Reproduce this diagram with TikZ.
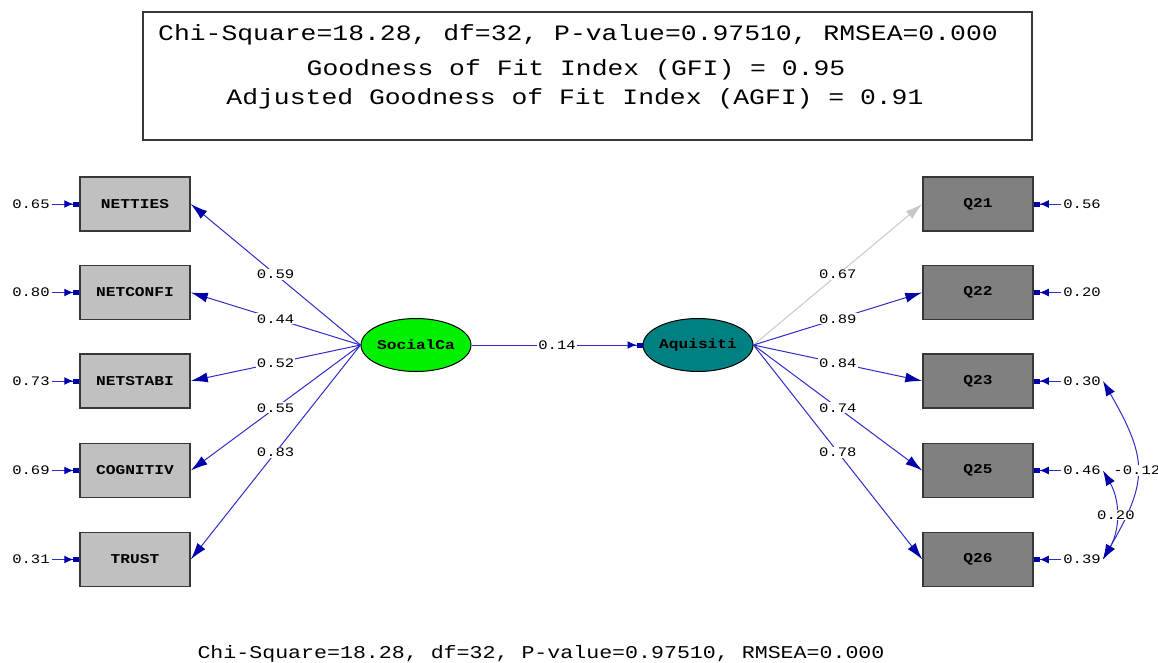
\documentclass[tikz,border=0pt]{standalone}
\usepackage{fontspec}
\usetikzlibrary{arrows.meta,shapes.geometric}
\newfontfamily\lisfont[FakeStretch=1.2]{Liberation Mono}
\definecolor{lisblue}{RGB}{45,45,200}
\definecolor{headblue}{RGB}{0,0,170}
\definecolor{lightbox}{RGB}{192,192,192}
\definecolor{darkbox}{RGB}{128,128,128}
\definecolor{framegray}{RGB}{55,55,55}
\definecolor{fixgray}{RGB}{200,200,200}
\definecolor{latgreen}{RGB}{0,240,0}
\definecolor{latteal}{RGB}{0,128,128}
\tikzset{
	obsbox/.style={draw=framegray, line width=1.5pt, minimum width=110pt, minimum height=54pt, inner sep=0pt, font=\lisfont\fontsize{13.5pt}{15pt}\selectfont\bfseries},
	latent/.style={ellipse, draw=black, line width=1pt, minimum width=110pt, minimum height=53pt, inner sep=0pt, font=\lisfont\fontsize{13.5pt}{15pt}\selectfont\bfseries},
	coef/.style={font=\lisfont\fontsize{13pt}{15pt}\selectfont, fill=white, inner sep=1pt},
	errlab/.style={font=\lisfont\fontsize{13pt}{15pt}\selectfont, inner sep=2pt},
	load/.style={draw=lisblue, line width=1pt, -{Latex[length=17pt,width=10pt,color=headblue]}},
	err/.style={draw=lisblue, line width=1pt, -{Latex[length=9pt,width=8pt,color=headblue]Rectangle[length=6pt,width=5pt,sep=0pt,color=headblue]}},
	cov/.style={draw=lisblue, line width=1pt, {Latex[length=15pt,width=10pt,color=headblue]}-{Latex[length=15pt,width=10pt,color=headblue]}},
	fitline/.style={font=\lisfont\fontsize{22pt}{24pt}\selectfont, inner sep=0pt}
}
\begin{document}
\begin{tikzpicture}[x=1pt, y=-1pt]
	\useasboundingbox[fill=white] (0,0) rectangle (1158,662);

	\node[draw=framegray, line width=2pt, minimum width=889pt, minimum height=128pt] (fitbox) at (587.5,76) {};
	\node[fitline] (chi) at (578,35) {Chi-Square=18.28, df=32, P-value=0.97510, RMSEA=0.000};
	\node[fitline] (gfi) at (576,70) {Goodness of Fit Index (GFI) = 0.95};
	\node[fitline] (agfi) at (575,99) {Adjusted Goodness of Fit Index (AGFI) = 0.91};

	\node[obsbox, fill=lightbox] (netties) at (135,204) {NETTIES};
	\node[obsbox, fill=lightbox] (netconfi) at (135,292.5) {NETCONFI};
	\node[obsbox, fill=lightbox] (netstabi) at (135,381) {NETSTABI};
	\node[obsbox, fill=lightbox] (cognitiv) at (135,470.5) {COGNITIV};
	\node[obsbox, fill=lightbox] (trust) at (135,559.5) {TRUST};

	\node[obsbox, fill=darkbox] (q21) at (978,204) {Q21};
	\node[obsbox, fill=darkbox] (q22) at (978,292.5) {Q22};
	\node[obsbox, fill=darkbox] (q23) at (978,381) {Q23};
	\node[obsbox, fill=darkbox] (q25) at (978,470.5) {Q25};
	\node[obsbox, fill=darkbox] (q26) at (978,559.5) {Q26};

	\node[latent, fill=latgreen] (socialca) at (416,345) {SocialCa};
	\node[latent, fill=latteal] (aquisiti) at (698,345) {Aquisiti};

	% error variances
	\node[errlab] (e1) at (31,204) {0.65};
	\node[errlab] (e2) at (31,292.5) {0.80};
	\node[errlab] (e3) at (31,381) {0.73};
	\node[errlab] (e4) at (31,470.5) {0.69};
	\node[errlab] (e5) at (31,559.5) {0.31};
	\node[errlab] (f1) at (1082,204) {0.56};
	\node[errlab] (f2) at (1082,292.5) {0.20};
	\node[errlab] (f3) at (1082,381) {0.30};
	\node[errlab] (f5) at (1082,470.5) {0.46};
	\node[errlab] (f6) at (1082,559.5) {0.39};

	\draw[err] (e1) -- (netties);
	\draw[err] (e2) -- (netconfi);
	\draw[err] (e3) -- (netstabi);
	\draw[err] (e4) -- (cognitiv);
	\draw[err] (e5) -- (trust);
	\draw[err] (f1) -- (q21);
	\draw[err] (f2) -- (q22);
	\draw[err] (f3) -- (q23);
	\draw[err] (f5) -- (q25);
	\draw[err] (f6) -- (q26);

	% loadings
	\draw[load] (socialca.west) -- node[coef] {0.59} (netties.east);
	\draw[load] (socialca.west) -- node[coef] {0.44} (netconfi.east);
	\draw[load] (socialca.west) -- node[coef] {0.52} (netstabi.east);
	\draw[load] (socialca.west) -- node[coef] {0.55} (cognitiv.east);
	\draw[load] (socialca.west) -- node[coef] {0.83} (trust.east);

	\draw[load, draw=fixgray, -{Latex[length=17pt,width=10pt,color=fixgray]}] (aquisiti.east) -- node[coef] {0.67} (q21.west);
	\draw[load] (aquisiti.east) -- node[coef] {0.89} (q22.west);
	\draw[load] (aquisiti.east) -- node[coef] {0.84} (q23.west);
	\draw[load] (aquisiti.east) -- node[coef] {0.74} (q25.west);
	\draw[load] (aquisiti.east) -- node[coef] {0.78} (q26.west);

	\draw[err] (socialca.east) -- node[coef] {0.14} (aquisiti.west);

	% error covariances
	\draw[cov] (f3.east) to[out=-60, in=60, looseness=1.3] node[coef, pos=0.5] {-0.12} (f6.east);
	\draw[cov] (f5.east) to[out=-60, in=60] node[coef, pos=0.5] {0.20} (f6.east);

	\node[font=\lisfont\fontsize{18pt}{20pt}\selectfont, inner sep=0pt] (chibottom) at (541,654) {Chi-Square=18.28, df=32, P-value=0.97510, RMSEA=0.000};
\end{tikzpicture}
\end{document}
